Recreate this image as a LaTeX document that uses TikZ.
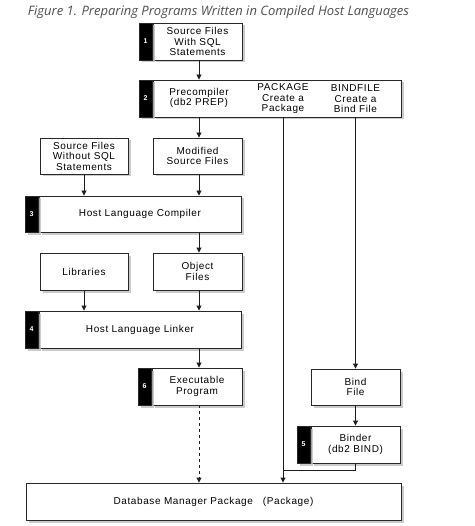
\documentclass[tikz,border=0pt]{standalone}
\usepackage{fontspec}
\setmainfont{Liberation Sans}[LetterSpace=6]
\newfontfamily\captionfont{Open Sans}
\usetikzlibrary{arrows.meta,shadows}

\tikzset{
  stage/.style={draw={rgb,255:red,40;green,40;blue,40}, fill=white, line width=0.9, inner sep=1pt, align=center,
    font=\fontsize{10}{10.5}\selectfont,
    drop shadow={shadow xshift=2.5pt, shadow yshift=-2.5pt, fill=black!25, opacity=0.8}},
  numtab/.style={draw={rgb,255:red,40;green,40;blue,40}, fill=black, text=white, line width=0.9, inner sep=0pt,
    minimum width=13pt, font=\bfseries\fontsize{7}{8}\selectfont,
    drop shadow={shadow xshift=2.5pt, shadow yshift=-2.5pt, fill=black!25, opacity=0.8}},
  label/.style={align=center, inner sep=0pt, font=\fontsize{10}{10.5}\selectfont},
  flow/.style={-{Triangle[length=5pt,width=5pt]}, line width=0.9, draw={rgb,255:red,30;green,30;blue,30}}
}

\begin{document}
\begin{tikzpicture}[x=1pt,y=1pt,yscale=-1,xscale=1]
\fill[white] (0,0) rectangle (474,526);
\path[use as bounding box] (0,0) rectangle (474,526);

% Text Node
\node[text={rgb,255:red,80;green,80;blue,80}, font=\captionfont\itshape\fontsize{13}{15}\selectfont] (title) at (218.5,12) {Figure 1. Preparing Programs Written in Compiled Host Languages};

%Shape: Rectangle [src]
\node[stage, minimum width=89pt, minimum height=37pt] (src) at (197.5,41.5) {Source Files\\With SQL\\Statements};
\node[numtab, minimum height=37pt, anchor=north east] (srctab) at (src.north west) {1};

%Shape: Rectangle [prep]
\node[stage, minimum width=248pt, minimum height=37pt] (prep) at (277,98.5) {};
\node[numtab, minimum height=37pt, anchor=north east] (preptab) at (prep.north west) {2};
% Text Node
\node[label] (prec) at (199,98) {Precompiler\\(db2 PREP)};
% Text Node
\node[label] (pkg) at (283,99) {PACKAGE\\Create a\\Package};
% Text Node
\node[label] (bfl) at (355.5,99) {BINDFILE\\Create a\\Bind File};

%Shape: Rectangle [nosql]
\node[stage, minimum width=88pt, minimum height=36pt] (nosql) at (84,156) {Source Files\\Without SQL\\Statements};
%Shape: Rectangle [modsrc]
\node[stage, minimum width=89pt, minimum height=36pt] (modsrc) at (197.5,156) {Modified\\Source Files};

%Shape: Rectangle [comp]
\node[stage, minimum width=202pt, minimum height=36pt] (comp) at (140,214) {Host Language Compiler};
\node[numtab, minimum height=36pt, anchor=north east] (comptab) at (comp.north west) {3};

%Shape: Rectangle [libs]
\node[stage, minimum width=88pt, minimum height=37pt] (libs) at (84,271.5) {Libraries};
%Shape: Rectangle [obj]
\node[stage, minimum width=89pt, minimum height=37pt] (obj) at (197.5,271.5) {Object\\Files};

%Shape: Rectangle [link]
\node[stage, minimum width=202pt, minimum height=37pt] (link) at (140,329.5) {Host Language Linker};
\node[numtab, minimum height=37pt, anchor=north east] (linktab) at (link.north west) {4};

%Shape: Rectangle [exe]
\node[stage, minimum width=90pt, minimum height=37pt] (exe) at (197,386.5) {Executable\\Program};
\node[numtab, minimum height=37pt, anchor=north east] (exetab) at (exe.north west) {6};

%Shape: Rectangle [bindf]
\node[stage, minimum width=89pt, minimum height=36pt] (bindf) at (355.5,387) {Bind\\File};
%Shape: Rectangle [binder]
\node[stage, minimum width=89pt, minimum height=37pt] (binder) at (355.5,444.5) {Binder\\(db2 BIND)};
\node[numtab, minimum height=37pt, anchor=north east] (bindertab) at (binder.north west) {5};

%Shape: Rectangle [dbm]
\node[stage, minimum width=375pt, minimum height=37pt] (dbm) at (213.5,501.5) {Database Manager Package\quad (Package)};

%Straight Lines
\draw[flow] (src.south -| prec) -- (prec |- prep.north);
\draw[flow] (prec |- prep.south) -- (prec |- modsrc.north);
\draw[flow] (nosql.south) -- (nosql.south |- comp.north);
\draw[flow] (prec |- modsrc.south) -- (prec |- comp.north);
\draw[flow] (prec |- comp.south) -- (prec |- obj.north);
\draw[flow] (libs.south) -- (libs.south |- link.north);
\draw[flow] (prec |- obj.south) -- (prec |- link.north);
\draw[flow] (prec |- link.south) -- (prec |- exe.north);
\draw[flow, dashed] (prec |- exe.south) -- (prec |- dbm.north);
\draw[flow] (pkg |- prep.south) -- (pkg |- dbm.north);
\draw[flow] (bfl |- prep.south) -- (bfl |- bindf.north);
\draw[flow] (bindf.south) -- (binder.north);
%Straight Lines [join]
\coordinate (join) at (283,470.5);
\draw[line width=0.9, draw={rgb,255:red,30;green,30;blue,30}] (binder.south) |- (join);

\end{tikzpicture}
\end{document}
